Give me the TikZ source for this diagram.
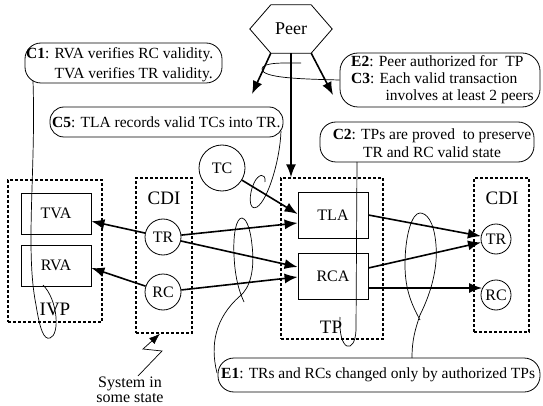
\documentclass[tikz,border=0pt]{standalone}
\usepackage{fontspec}
\setmainfont{Liberation Serif}
\usetikzlibrary{arrows.meta,calc}
\tikzset{
 proc/.style={draw, line width=0.8pt, minimum width=70pt, minimum height=41pt, inner sep=0pt, font=\fontsize{16}{19}\selectfont},
 dbox/.style={draw, dash pattern=on 3pt off 2pt, line width=1.4pt, inner sep=0pt},
 lbl/.style={font=\fontsize{19}{22}\selectfont, inner sep=0pt},
 store/.style={draw, circle, line width=0.8pt, inner sep=0pt, font=\fontsize{16}{19}\selectfont},
 cbox/.style={draw, line width=0.8pt, inner sep=0pt},
 ctext/.style={font=\fontsize{15.5}{19}\selectfont, inner sep=0pt, align=left},
 flow/.style={line width=1.6pt, -{Latex[length=13pt,width=10pt]}},
 lasso/.style={line width=0.7pt},
}
\begin{document}
\begin{tikzpicture}[x=1pt,y=-1pt]
\useasboundingbox (0,0) rectangle (543,406);

% IVP
\node[dbox, minimum width=94pt, minimum height=142pt] (ivp) at (55,251) {};
\node[lbl] (ivpl) at (55,309) {IVP};
\node[proc] (tva) at (56,213.5) {TVA};
\node[proc] (rva) at (56,265.5) {RVA};

% CDI left
\node[dbox, minimum width=56pt, minimum height=155pt] (cdi1) at (164,255.5) {};
\node[lbl] (cdi1l) at (164,198) {CDI};
\node[store, minimum size=36pt] (tr1) at (163,237) {TR};
\node[store, minimum size=36pt] (rc1) at (163,292) {RC};

% TC
\node[store, minimum size=46pt] (tc) at (222,168) {TC};

% TP
\node[dbox, minimum width=102pt, minimum height=161pt] (tp) at (332,258.5) {};
\node[lbl] (tpl) at (331,327) {TP};
\node[proc, minimum height=46pt] (tla) at (333,215) {TLA};
\node[proc, minimum height=46pt] (rca) at (333,276) {RCA};

% CDI right
\node[dbox, minimum width=55pt, minimum height=154pt] (cdi2) at (501.5,255) {};
\node[lbl] (cdi2l) at (502,198) {CDI};
\node[store, minimum size=30pt] (tr2) at (496,239) {TR};
\node[store, minimum size=30pt] (rc2) at (496,295) {RC};

% Peer
\node[font=\fontsize{18}{20}\selectfont, minimum width=82pt, minimum height=48pt, inner sep=0pt] (peer) at (291,29) {Peer};
\draw[line width=0.8pt] (peer.west) -- ([xshift=21pt]peer.north west) -- ([xshift=-21pt]peer.north east)
  -- (peer.east) -- ([xshift=-21pt]peer.south east) -- ([xshift=21pt]peer.south west) -- cycle;
\coordinate (pl) at (252,94);
\coordinate (pr) at (333,95);
\draw[flow] ([xshift=21pt]peer.south west) -- (pl);
\draw[flow] ([xshift=-21pt]peer.south east) -- (pr);
\draw[flow] (peer.south) -- (peer.south |- tp.north);

% flows
\draw[flow] (tr1) -- (tva);
\draw[flow] (rc1) -- ([yshift=-2.5pt]rva.east);
\draw[flow] (tc) -- ([yshift=1pt]tla.west);
\draw[flow] (tr1) -- ([yshift=-8pt]tla.west);
\draw[flow] (tr1) -- ([yshift=9pt]rca.west);
\draw[flow] (rc1) -- ([yshift=-1pt]rca.west);
\draw[flow] (tla.east) -- (tr2);
\draw[flow] ([yshift=8pt]rca.east) -- (tr2);
\draw[flow] ([yshift=-12pt]rca.east) -- ([xshift=1.5pt,yshift=7pt]rc2.west);

% callouts
\node[cbox, rounded corners=16pt, minimum width=197pt, minimum height=40pt] (c1box) at (123.5,63) {};
\node[ctext, anchor=west, font=\fontsize{15.5}{20}\selectfont] (c1) at (26,65) {\textbf{C1}: RVA verifies RC validity.\\\phantom{\textbf{C1}: }TVA verifies TR validity.};

\node[cbox, rounded corners=14pt, minimum width=233pt, minimum height=30pt] (c5box) at (166.5,122) {};
\node[ctext, anchor=west] (c5) at (52,122) {\textbf{C5}: TLA records valid TCs into TR.};

\node[cbox, rounded corners=18pt, minimum width=200pt, minimum height=54pt] (e2box) at (440,80) {};
\node[ctext, anchor=west, font=\fontsize{15.5}{17}\selectfont] (e2) at (351,80) {\textbf{E2}: Peer authorized for\ \ TP\\\textbf{C3}: Each valid transaction\\\phantom{\textbf{C3}: }\hspace*{6pt}involves at least 2 peers};

\node[cbox, rounded corners=16pt, minimum width=214pt, minimum height=40pt] (c2box) at (427,142) {};
\node[ctext, align=center, font=\fontsize{15.5}{17.5}\selectfont] (c2) at (432,143) {\textbf{C2}: TPs are proved\ \ to preserve\\TR and RC valid state};

\node[cbox, rounded corners=16pt, minimum width=322pt, minimum height=34pt] (e1box) at (379,375) {};
\node[ctext, anchor=west] (e1) at (221,375) {\textbf{E1}: TRs and RCs changed only by authorized TPs};

% system in some state
\node[font=\fontsize{16}{15}\selectfont, align=center, inner sep=0pt] (sys) at (130,390) {System in\\some state};
\coordinate (z0) at (138,376);
\draw[line width=0.7pt, -{Latex[length=11pt,width=8pt]}] (z0) -- (162,351) -- (143,349) -- ([xshift=-4pt]cdi1.south);

% lassos
\coordinate (c1t) at (33,81);
\draw[lasso] (c1t) .. controls (36,170) and (25,250) .. (36,305)
  .. controls (40,330) and (44,340) .. (50,338)
  .. controls (60,335) and (58,300) .. (43,285);

\draw[lasso] (e2box.west) .. controls (300,79) and (262,78) .. (262,69)
  .. controls (262,62) and (285,63) .. (301,63);

\coordinate (c5t) at (281,131);
\draw[lasso] (c5t) .. controls (280,160) and (268,200) .. (257,207)
  .. controls (248,212) and (249,193) .. (254,183)
  .. controls (258,174) and (266,172) .. (265,182);

\coordinate (c2t) at (357,162);
\draw[lasso] (c2t) -- (356,330) .. controls (355,355) and (338,352) .. (340,317);

\coordinate (e1a) at (217,373);
\draw[lasso] (e1a) .. controls (210,345) and (215,318) .. (240,296)
  .. controls (250,288) and (255,270) .. (252,245)
  .. controls (250,225) and (245,218) .. (242,218)
  .. controls (236,218) and (233,235) .. (234,255)
  .. controls (235,280) and (240,293) .. (244,302);

\coordinate (e1b) at (412,358);
\draw[lasso] (e1b) .. controls (412,340) and (415,330) .. (420,315)
  .. controls (430,295) and (438,270) .. (436,245)
  .. controls (434,220) and (426,213) .. (420,213)
  .. controls (412,213) and (405,235) .. (405,265)
  .. controls (405,290) and (412,305) .. (420,320);
\end{tikzpicture}
\end{document}
